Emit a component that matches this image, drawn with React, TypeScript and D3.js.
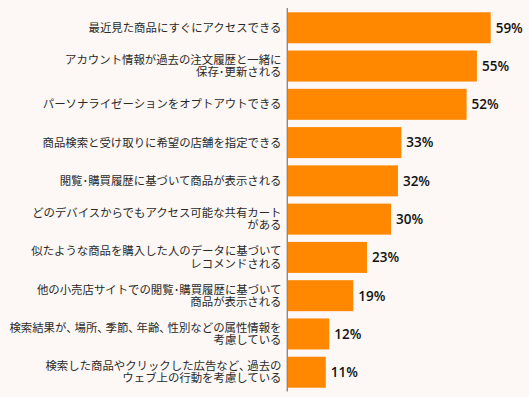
import React from "react";
import * as d3 from "d3";

const categories: string[] = [
  "最近見た商品にすぐにアクセスできる",
  "アカウント情報が過去の注文履歴と一緒に\n保存･更新される",
  "パーソナライゼーションをオプトアウトできる",
  "商品検索と受け取りに希望の店舗を指定できる",
  "閲覧･購買履歴に基づいて商品が表示される",
  "どのデバイスからでもアクセス可能な共有カート\nがある",
  "似たような商品を購入した人のデータに基づいて\nレコメンドされる",
  "他の小売店サイトでの閲覧･購買履歴に基づいて\n商品が表示される",
  "検索結果が、場所、季節、年齢、性別などの属性情報を\n考慮している",
  "検索した商品やクリックした広告など、過去の\nウェブ上の行動を考慮している",
];
const values: number[] = [59, 55, 52, 33, 32, 30, 23, 19, 12, 11];

const W = 529;
const H = 397;

function segments(line: string): { t: string; p: boolean }[] {
  const out: { t: string; p: boolean }[] = [];
  for (const ch of line) {
    const p = ch === "、";
    const last = out[out.length - 1];
    if (last && last.p === p) last.t += ch;
    else out.push({ t: ch, p });
  }
  return out;
}

export default function App() {
  const x = d3.scaleLinear().domain([0, 100]).range([288, 288 + 343.5]);
  const y = d3
    .scaleBand<number>()
    .domain(d3.range(categories.length))
    .range([5, 395])
    .paddingInner(0.19)
    .paddingOuter(0.19);
  const bw = y.bandwidth();
  return (
    <div style={{ position: "absolute", left: 0, top: 0 }}>
      <svg width={W} height={H} style={{ display: "block", background: "#fdf8f5" }}>
        <rect x={0} y={0} width={W} height={H} fill="#fdf8f5" />
        {values.map((v, i) => (
          <rect
            key={"b" + i}
            x={x(0)}
            y={y(i)!}
            width={x(v) - x(0)}
            height={bw}
            fill="#ff8800"
          />
        ))}
        <line x1={287.3} x2={287.3} y1={8} y2={391.5} stroke="#8a8a8a" strokeWidth={1.4} />
        {values.map((v, i) => (
          <text
            key={"v" + i}
            x={x(v) + 5}
            y={y(i)! + bw / 2}
            dy="0.36em"
            fontFamily="'Open Sans', 'Noto Sans', sans-serif"
            fontWeight={600}
            fontSize={13.5}
            fill="#111"
          >
            {v}%
          </text>
        ))}
        {categories.map((c, i) => {
          const lines = c.split("\n");
          const lh = 12.3;
          const cy = y(i)! + bw / 2;
          const start = cy - ((lines.length - 1) * lh) / 2;
          return lines.map((l, j) => (
            <text
              key={"c" + i + "_" + j}
              x={281.5}
              y={start + j * lh}
              dy="0.36em"
              textAnchor="end"
              fontFamily="'Noto Sans CJK JP', sans-serif"
              fontSize={11.4}
              fill="#2a2a2a"
            >
              {segments(l).map((s, k) => (
                <tspan
                  key={k}
                  style={s.p ? { fontFeatureSettings: '"palt"', letterSpacing: "2.5px" } : undefined}
                >
                  {s.t}
                </tspan>
              ))}
            </text>
          ));
        })}
      </svg>
    </div>
  );
}
